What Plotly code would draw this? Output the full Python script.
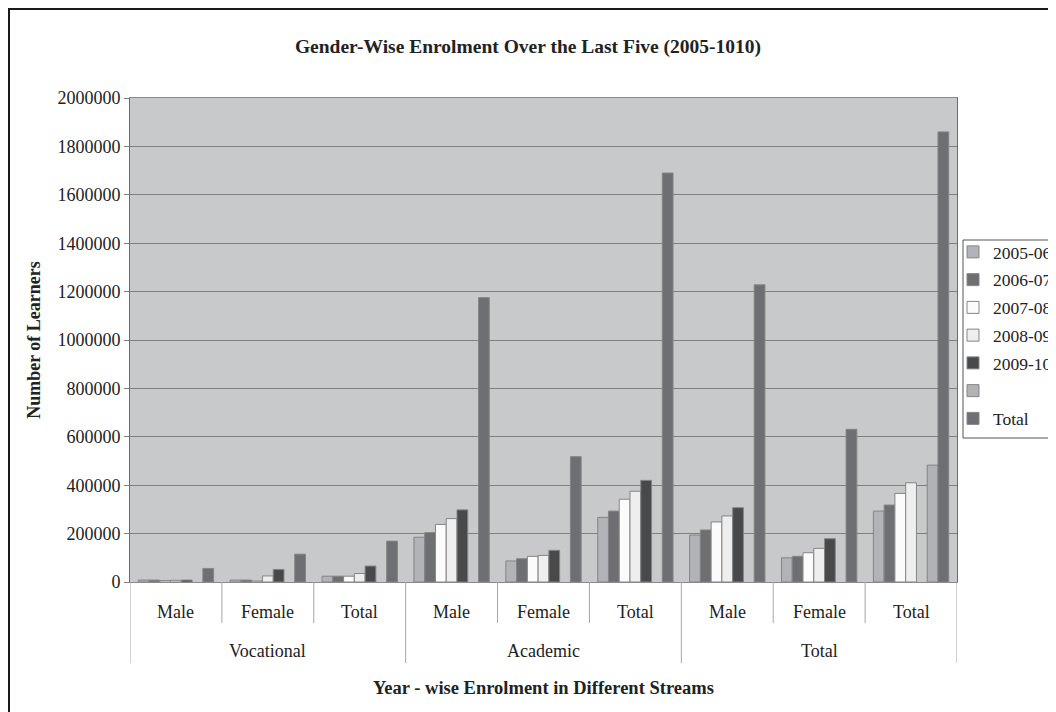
import plotly.graph_objects as go

# ---- data ----
streams = ["Vocational", "Academic", "Total"]
genders = ["Male", "Female", "Total"]
series_names = ["2005-06", "2006-07", "2007-08", "2008-09", "2009-10", " ", "Total"]

v_2005_06 = [8000, 8000, 24000, 185000, 87000, 267000, 194000, 100000, 293000]
v_2006_07 = [8000, 8000, 24000, 204000, 96000, 293000, 215000, 106000, 318000]
v_2007_08 = [6000, 4000, 24000, 238000, 106000, 342000, 248000, 121000, 366000]
v_2008_09 = [7000, 25000, 35000, 262000, 110000, 375000, 273000, 139000, 410000]
v_2009_10 = [8000, 52000, 66000, 298000, 131000, 420000, 307000, 179000, None]
v_blank = [None, None, None, None, None, None, None, None, 483000]
v_total = [56000, 115000, 169000, 1175000, 518000, 1690000, 1228000, 631000, 1860000]

y_ticks = [0, 200000, 400000, 600000, 800000, 1000000, 1200000, 1400000,
           1600000, 1800000, 2000000]

# ---- styling ----
colors = ["#b2b3b7", "#6e6f73", "#fbfbfb", "#eeeeee", "#48494b", "#b1b2b6", "#6e6f73"]
FONT = "Liberation Serif"

inner_labels = [g for s in streams for g in genders]
outer_labels = streams
xpos = list(range(len(inner_labels)))

values = [v_2005_06, v_2006_07, v_2007_08, v_2008_09, v_2009_10, v_blank, v_total]

fig = go.Figure()
for name, vals, col in zip(series_names, values, colors):
    fig.add_trace(go.Bar(
        x=xpos, y=vals, name=name, legendgroup=name,
        marker=dict(color=col, line=dict(color="#858585", width=1)),
    ))

# page offset (default body margin) and target geometry in page pixels
OFF = 8
W, H = 1056 - OFF, 712 - OFF
L, R, T, B = 130 - OFF, 957 - OFF, 98 - OFF, 582 - OFF
ph = B - T
pw = R - L

def py(page_y):
    return (B - (page_y - OFF)) / ph

def px(page_x):
    return ((page_x - OFF) - L) / pw

shapes = []
ncat = len(inner_labels)
for i in range(ncat + 1):
    outer = (i % len(genders) == 0)
    shapes.append(dict(
        type="line", xref="x", yref="paper",
        x0=i - 0.5, x1=i - 0.5, y0=0, y1=py(663 if outer else 623),
        line=dict(color="#a5a5a5", width=1),
    ))
# outer frame
shapes.append(dict(
    type="rect", xref="paper", yref="paper",
    x0=px(9), x1=px(1090), y0=py(740), y1=py(9),
    line=dict(color="#1a1a1a", width=2), fillcolor="rgba(0,0,0,0)", layer="above",
))
# legend box
shapes.append(dict(
    type="rect", xref="paper", yref="paper",
    x0=px(963), x1=px(1100), y0=py(438), y1=py(240),
    line=dict(color="#555555", width=1), fillcolor="white", layer="below",
))

annotations = []
for i, lab in enumerate(inner_labels):
    annotations.append(dict(
        x=i, y=py(612), xref="x", yref="paper", text=lab, showarrow=False,
        xanchor="center", yanchor="middle",
        font=dict(family=FONT, size=18, color="#222222"),
    ))
for j, lab in enumerate(outer_labels):
    annotations.append(dict(
        x=j * len(genders) + (len(genders) - 1) / 2, y=py(651), xref="x", yref="paper",
        text=lab, showarrow=False, xanchor="center", yanchor="middle",
        font=dict(family=FONT, size=18, color="#222222"),
    ))
annotations.append(dict(
    x=0.5, y=py(688), xref="paper", yref="paper",
    text="<b>Year - wise Enrolment in Different Streams</b>", showarrow=False,
    xanchor="center", yanchor="middle",
    font=dict(family=FONT, size=18.5, color="#222222"),
))

fig.update_layout(
    width=W, height=H,
    margin=dict(l=L, r=W - R, t=T, b=H - B, autoexpand=False),
    paper_bgcolor="white", plot_bgcolor="#c8c9cb",
    font=dict(family=FONT, size=18, color="#222222"),
    title=dict(text="<b>Gender-Wise Enrolment Over the Last Five (2005-1010)</b>",
               x=(528 - OFF) / W, xref="container", xanchor="center",
               y=1 - (46 - OFF) / H, yref="container", yanchor="middle",
               font=dict(family=FONT, size=19.5, color="#222222")),
    barmode="group", bargap=0.18, bargroupgap=0,
    xaxis=dict(range=[-0.5, ncat - 0.5], showticklabels=False, showgrid=False,
               zeroline=False, ticks="", showline=True, linecolor="#8a8a8a",
               mirror=True, fixedrange=True),
    yaxis=dict(range=[0, 2000000], tickvals=y_ticks, tickformat="d",
               showgrid=True, gridcolor="#7f7f7f", gridwidth=1,
               zeroline=False, ticks="outside", ticklen=5, tickcolor="#7f7f7f",
               showline=True, linecolor="#6a6a6a", mirror=True,
               tickfont=dict(family=FONT, size=18, color="#222222"),
               title=dict(text="<b>Number of Learners</b>", standoff=12,
                          font=dict(family=FONT, size=18, color="#222222"))),
    legend=dict(x=px(953), xanchor="left", y=py(234), yanchor="top",
                borderwidth=0, bgcolor="rgba(0,0,0,0)",
                font=dict(family=FONT, size=17.5, color="#222222"),
                traceorder="grouped", tracegroupgap=2, itemclick=False),
    shapes=shapes, annotations=annotations,
    showlegend=True,
)

fig.write_html("out.html")
